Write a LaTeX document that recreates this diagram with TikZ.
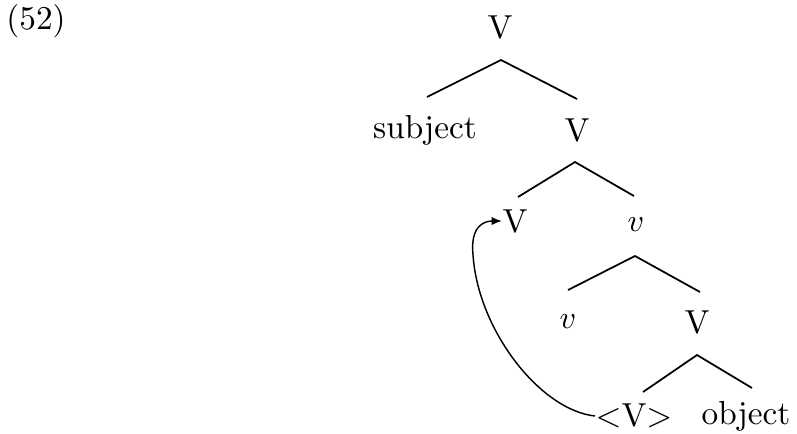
\documentclass[tikz,border=0pt]{standalone}
\usetikzlibrary{arrows.meta}
\begin{document}
\begin{tikzpicture}[x=0.3125pt,y=-0.3125pt,
  lbl/.style={inner sep=0pt,font=\fontsize{10.4}{12}\selectfont},
  edge/.style={line width=0.55pt},
  mv/.style={line width=0.45pt,-{Latex[length=3.2pt,width=2.6pt]}}]
\useasboundingbox (0,0) rectangle (797,433);
\node[lbl] (ex) at (36,21) {(52)};
% nodes
\node[lbl] (v1) at (500,27) {V};
\node[lbl] (subj) at (425,130) {subject};
\node[lbl] (v2) at (577,130) {V};
\node[lbl] (v3) at (515,221) {V};
\node[lbl] (lv1) at (636,225) {$v$};
\node[lbl] (lv2) at (568,322) {$v$};
\node[lbl] (v4) at (697,322) {V};
\node[lbl] (tr) at (634,416) {<V>};
\node[lbl] (obj) at (746,416) {object};
% branch points
\coordinate (a1) at (501,60);
\coordinate (l1) at (427,97);
\coordinate (r1) at (577,99);
\coordinate (a2) at (575,162);
\coordinate (l2) at (518,197);
\coordinate (r2) at (634,196);
\coordinate (a3) at (635,256);
\coordinate (l3) at (568,290);
\coordinate (r3) at (700,292);
\coordinate (a4) at (697,355);
\coordinate (l4) at (643,392);
\coordinate (r4) at (752,388);
\draw[edge] (l1) -- (a1) -- (r1);
\draw[edge] (l2) -- (a2) -- (r2);
\draw[edge] (l3) -- (a3) -- (r3);
\draw[edge] (l4) -- (a4) -- (r4);
% movement arrow
\coordinate (mid) at (473,255);
\draw[mv] (tr.west) .. controls (540,410) and (478,330) .. (mid)
  .. controls (470,225) and (485,221) .. (v3.west);
\end{tikzpicture}
\end{document}
